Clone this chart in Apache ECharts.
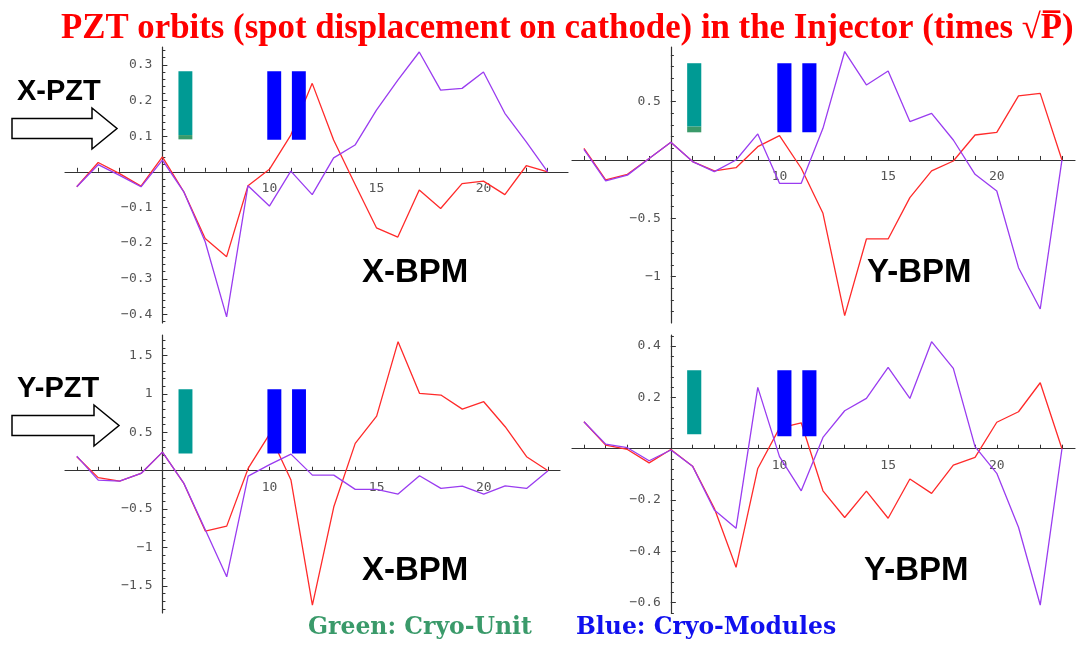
<!DOCTYPE html>
<html>
<head>
<meta charset="utf-8">
<script src="https://cdn.jsdelivr.net/npm/echarts@6/dist/echarts.min.js"></script>
<style>
html,body{margin:0;padding:0;background:#fff;}
#chart{width:1079px;height:645px;}
</style>
</head>
<body>
<div id="chart"></div>
<script>
// ---------- data ----------
const bpmIndex = [1,2,3,4,5,6,7,8,9,10,11,12,13,14,15,16,17,18,19,20,21,22,23];

// X-PZT, X-BPM (top left)
const xPztXBpmRed    = [-0.042, 0.026, -0.005, -0.040, 0.042, -0.056, -0.187, -0.238, -0.039, 0.007, 0.103, 0.248, 0.089, -0.035, -0.157, -0.183, -0.051, -0.103, -0.033, -0.026, -0.064, 0.017, 0.0];
const xPztXBpmPurple = [-0.042, 0.020, -0.010, -0.042, 0.033, -0.056, -0.196, -0.407, -0.039, -0.096, 0.002, -0.064, 0.039, 0.075, 0.173, 0.257, 0.336, 0.229, 0.234, 0.280, 0.164, 0.084, 0.0];
// X-PZT, Y-BPM (top right)
const xPztYBpmRed    = [0.100, -0.171, -0.123, 0.012, 0.151, -0.014, -0.094, -0.066, 0.114, 0.209, -0.071, -0.457, -1.334, -0.677, -0.677, -0.323, -0.094, -0.009, 0.214, 0.237, 0.549, 0.571, 0.0];
const xPztYBpmPurple = [0.090, -0.180, -0.130, 0.012, 0.151, -0.014, -0.100, 0.000, 0.223, -0.200, -0.200, 0.271, 0.929, 0.643, 0.763, 0.329, 0.400, 0.171, -0.123, -0.266, -0.923, -1.277, 0.0];
// Y-PZT, X-BPM (bottom left)
const yPztXBpmRed    = [0.183, -0.090, -0.135, -0.035, 0.243, -0.165, -0.787, -0.722, 0.030, 0.478, -0.122, -1.752, -0.470, 0.357, 0.713, 1.683, 1.009, 0.987, 0.804, 0.900, 0.574, 0.183, 0.0];
const yPztXBpmPurple = [0.190, -0.122, -0.135, -0.035, 0.243, -0.165, -0.770, -1.383, -0.070, 0.080, 0.217, -0.057, -0.057, -0.243, -0.243, -0.304, -0.065, -0.230, -0.200, -0.304, -0.196, -0.230, 0.0];
// Y-PZT, Y-BPM (bottom right)
const yPztYBpmRed    = [0.105, 0.014, -0.003, -0.055, -0.003, -0.068, -0.232, -0.462, -0.077, 0.080, 0.101, -0.164, -0.268, -0.165, -0.271, -0.118, -0.174, -0.064, -0.034, 0.103, 0.144, 0.257, 0.0];
const yPztYBpmPurple = [0.105, 0.018, 0.004, -0.047, -0.005, -0.068, -0.239, -0.310, 0.239, -0.031, -0.164, 0.044, 0.148, 0.196, 0.317, 0.196, 0.417, 0.313, 0.008, -0.096, -0.306, -0.609, 0.0];

// tick labels
const xTickLabels = [10, 15, 20];
const yLabels1 = [0.3, 0.2, 0.1, -0.1, -0.2, -0.3, -0.4];
const yLabels2 = [0.5, -0.5, -1];
const yLabels3 = [1.5, 1, 0.5, -0.5, -1, -1.5];
const yLabels4 = [0.4, 0.2, -0.2, -0.4, -0.6];

// cryo markers (x spans) and their vertical extent per panel [bottom, top]
const cryoUnitSpan = [5.75, 6.40];
const cryoModuleSpans = [[9.90, 10.55], [11.05, 11.70]];
const cryoUnitY   = [[0.103, 0.282], [0.286, 0.829], [0.226, 1.061], [0.056, 0.306]];
const cryoUnitFoot = [[0.091, 0.103], [0.237, 0.286], null, null];
const cryoModuleY = [[0.090, 0.282], [0.237, 0.829], [0.226, 1.061], [0.049, 0.306]];

// ---------- layout ----------
const panels = [
  {left: 65,  top: 47,  width: 503, height: 276, xmin: 0.45, xmax: 23.95, ymin: -0.424, ymax: 0.35,  yLabels: yLabels1, minorStep: 0.02, red: xPztXBpmRed, purple: xPztXBpmPurple},
  {left: 572, top: 47,  width: 503, height: 276, xmin: 0.45, xmax: 23.6,  ymin: -1.397, ymax: 0.968, yLabels: yLabels2, minorStep: 0.1,  red: xPztYBpmRed, purple: xPztYBpmPurple},
  {left: 65,  top: 335, width: 495, height: 278, xmin: 0.45, xmax: 23.56, ymin: -1.855, ymax: 1.77,  yLabels: yLabels3, minorStep: 0.1,  red: yPztXBpmRed, purple: yPztXBpmPurple},
  {left: 572, top: 335, width: 503, height: 278, xmin: 0.45, xmax: 23.6,  ymin: -0.64,  ymax: 0.443, yLabels: yLabels4, minorStep: 0.04, red: yPztYBpmRed, purple: yPztYBpmPurple}
];
const yAxisAt = 5;   // the vertical axis crosses the horizontal one at BPM 5
const xAxisAt = 0;   // the horizontal axis crosses at value 0

function minorTicks(p) {
  const out = [];
  const n0 = Math.ceil(p.ymin / p.minorStep - 1e-9), n1 = Math.floor(p.ymax / p.minorStep + 1e-9);
  for (let n = n0; n <= n1; n++) out.push(+(n * p.minorStep).toFixed(4));
  return out;
}
const fmt = v => (v < 0 ? '\u2212' : '') + String(+Math.abs(v).toFixed(3));

const grid = [], xAxis = [], yAxis = [], series = [];
const axisColor = '#333';
panels.forEach((p, i) => {
  grid.push({left: p.left, top: p.top, width: p.width, height: p.height, containLabel: false});
  const xOff = -(p.height * (xAxisAt - p.ymin) / (p.ymax - p.ymin));
  xAxis.push({
    type: 'value', gridIndex: i, min: p.xmin, max: p.xmax, position: 'bottom', offset: xOff,
    axisLine: {show: true, onZero: false, lineStyle: {color: axisColor, width: 1.2}},
    axisTick: {show: true, inside: true, length: 4, customValues: bpmIndex, lineStyle: {color: axisColor}},
    axisLabel: {show: true, customValues: xTickLabels, margin: 10, color: '#555', fontFamily: 'DejaVu Sans Mono', fontSize: 13},
    splitLine: {show: false}
  });
  const yOff = -(p.width * (yAxisAt - p.xmin) / (p.xmax - p.xmin));
  yAxis.push({
    type: 'value', gridIndex: i, min: p.ymin, max: p.ymax, position: 'left', offset: yOff,
    axisLine: {show: true, onZero: false, lineStyle: {color: axisColor, width: 1.2}},
    axisTick: {show: true, inside: true, length: 5, customValues: p.yLabels, lineStyle: {color: axisColor}},
    axisLabel: {show: true, customValues: p.yLabels, margin: 10, color: '#555', fontFamily: 'DejaVu Sans Mono', fontSize: 13, formatter: fmt},
    splitLine: {show: false}
  });
  yAxis.push({
    type: 'value', gridIndex: i, min: p.ymin, max: p.ymax, position: 'left', offset: yOff,
    axisLine: {show: false, onZero: false},
    axisTick: {show: true, inside: true, length: 3, customValues: minorTicks(p), lineStyle: {color: axisColor}},
    axisLabel: {show: false},
    splitLine: {show: false}
  });
  series.push({
    type: 'line', xAxisIndex: i, yAxisIndex: 2 * i, data: bpmIndex.map((x, k) => [x, p.red[k]]),
    symbol: 'none', lineStyle: {color: '#ff2a2a', width: 1.3}, z: 3, silent: true, animation: false
  });
  series.push({
    type: 'line', xAxisIndex: i, yAxisIndex: 2 * i, data: bpmIndex.map((x, k) => [x, p.purple[k]]),
    symbol: 'none', lineStyle: {color: '#9a3cf0', width: 1.3}, z: 4, silent: true, animation: false
  });
  const bars = [];
  bars.push([cryoUnitSpan[0], cryoUnitSpan[1], cryoUnitY[i][0], cryoUnitY[i][1], 0]);
  if (cryoUnitFoot[i]) bars.push([cryoUnitSpan[0], cryoUnitSpan[1], cryoUnitFoot[i][0], cryoUnitFoot[i][1], 1]);
  cryoModuleSpans.forEach(s => bars.push([s[0], s[1], cryoModuleY[i][0], cryoModuleY[i][1], 2]));
  series.push({
    type: 'custom', xAxisIndex: i, yAxisIndex: 2 * i, data: bars, z: 6, silent: true, animation: false,
    encode: {x: [0, 1], y: [2, 3]},
    renderItem: (params, api) => {
      const a = api.coord([api.value(0), api.value(3)]);
      const b = api.coord([api.value(1), api.value(2)]);
      const colors = ['#009a94', '#3a9a6a', '#0000ff'];
      return {type: 'rect', shape: {x: a[0], y: a[1], width: b[0] - a[0], height: b[1] - a[1]},
              style: {fill: colors[api.value(4)]}};
    }
  });
});

// ---------- annotations ----------
const labelFont = 'bold 33px "Liberation Sans", sans-serif';
function arrow(tipX, tipY) {
  // outline arrow pointing right
  return {type: 'polygon', shape: {points: [
      [12, tipY - 10], [tipX - 25, tipY - 10], [tipX - 25, tipY - 20.5], [tipX, tipY],
      [tipX - 25, tipY + 20.5], [tipX - 25, tipY + 10], [12, tipY + 10]]},
    style: {fill: '#fff', stroke: '#000', lineWidth: 1.5}, z: 10};
}
const graphic = [
  {type: 'text', left: 61, top: 12, style: {text: 'PZT orbits (spot displacement on cathode) in the Injector (times \u221aP\u0305)',
     font: 'bold 34.8px "Liberation Serif", serif', fill: '#ff0000'}, z: 10},
  {type: 'text', x: 17, y: 92, style: {text: 'X-PZT', font: 'bold 29px "Liberation Sans", sans-serif', fill: '#000', verticalAlign: 'middle'}, z: 10},
  arrow(117, 128.5),
  {type: 'text', x: 17, y: 389, style: {text: 'Y-PZT', font: 'bold 29px "Liberation Sans", sans-serif', fill: '#000', verticalAlign: 'middle'}, z: 10},
  arrow(119, 425.5),
  {type: 'text', x: 362, y: 273, style: {text: 'X-BPM', font: labelFont, fill: '#000', verticalAlign: 'middle'}, z: 10},
  {type: 'text', x: 867, y: 273, style: {text: 'Y-BPM', font: labelFont, fill: '#000', verticalAlign: 'middle'}, z: 10},
  {type: 'text', x: 362, y: 571, style: {text: 'X-BPM', font: labelFont, fill: '#000', verticalAlign: 'middle'}, z: 10},
  {type: 'text', x: 864, y: 571, style: {text: 'Y-BPM', font: labelFont, fill: '#000', verticalAlign: 'middle'}, z: 10},
  {type: 'text', x: 308, y: 628, style: {text: 'Green: Cryo-Unit', font: 'bold 23.5px "DejaVu Serif", serif', fill: '#3a9a6a', verticalAlign: 'middle'}, z: 10},
  {type: 'text', x: 576, y: 628, style: {text: 'Blue: Cryo-Modules', font: 'bold 23.5px "DejaVu Serif", serif', fill: '#1010ee', verticalAlign: 'middle'}, z: 10}
];

const chart = echarts.init(document.getElementById('chart'), null, {renderer: 'canvas'});
chart.setOption({animation: false, backgroundColor: '#fff', grid, xAxis, yAxis, series, graphic});
</script>
</body>
</html>
